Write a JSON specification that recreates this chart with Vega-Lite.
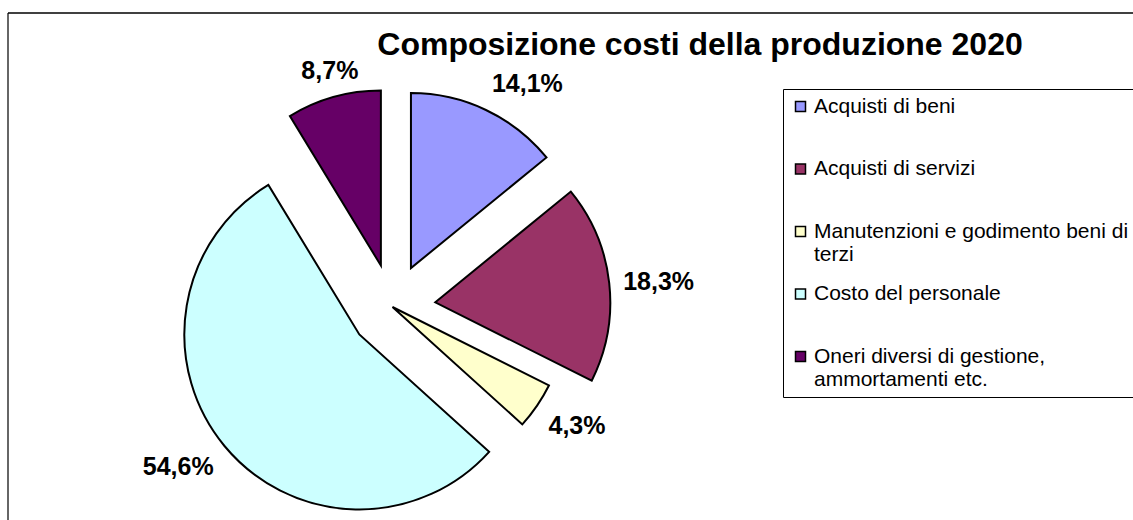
{
  "$schema": "https://vega.github.io/schema/vega-lite/v6.json",
  "width": 1125,
  "height": 507,
  "autosize": {"type": "none"},
  "padding": {"left": 8, "top": 13, "right": 0, "bottom": 0},
  "background": "white",
  "config": {"view": {"stroke": null}},
  "title": {
    "text": "Composizione costi della produzione 2020",
    "font": "Liberation Sans",
    "fontSize": 32,
    "fontWeight": "bold",
    "color": "black",
    "anchor": "middle",
    "frame": "group",
    "baseline": "alphabetic",
    "offset": -75,
    "dx": 129.5
  },
  "data": {
    "values": [
      {"voce": "Acquisti di beni", "quota": 14.1},
      {"voce": "Acquisti di servizi", "quota": 18.3},
      {"voce": "Manutenzioni e godimento beni di terzi", "quota": 4.3},
      {"voce": "Costo del personale", "quota": 54.6},
      {"voce": "Oneri diversi di gestione, ammortamenti etc.", "quota": 8.7}
    ]
  },
  "transform": [
    {"window": [{"op": "sum", "field": "quota", "as": "fine"}], "frame": [null, 0]},
    {"calculate": "datum.fine - datum.quota", "as": "inizio"},
    {"calculate": "(datum.inizio + datum.quota / 2) * 2 * PI / 100", "as": "mid"},
    {"calculate": "datum.voce == 'Manutenzioni e godimento beni di terzi' ? 0 : 0.246", "as": "esplodi"},
    {"calculate": "datum.esplodi * sin(datum.mid)", "as": "cx"},
    {"calculate": "datum.esplodi * cos(datum.mid)", "as": "cy"},
    {"calculate": "datum.cx + 1.08 * sin(datum.mid)", "as": "lx"},
    {"calculate": "datum.cy + 1.08 * cos(datum.mid)", "as": "ly"},
    {"calculate": "replace(format(datum.quota, '.1f'), '.', ',') + '%'", "as": "etichetta"}
  ],
  "layer": [
    {
      "mark": {"type": "arc", "outerRadius": 175, "stroke": "black", "strokeWidth": 2, "strokeJoin": "miter"},
      "encoding": {
        "x": {"field": "cx", "type": "quantitative", "scale": {"domain": [-2.1971, 4.2314], "nice": false, "zero": false}, "axis": null},
        "y": {"field": "cy", "type": "quantitative", "scale": {"domain": [-1.2171, 1.68], "nice": false, "zero": false}, "axis": null},
        "theta": {"field": "inizio", "type": "quantitative", "stack": null, "scale": {"domain": [0, 100], "range": [0, 6.283185307179586]}},
        "theta2": {"field": "fine"},
        "color": {
          "field": "voce",
          "type": "nominal",
          "sort": null,
          "scale": {
            "domain": ["Acquisti di beni", "Acquisti di servizi", "Manutenzioni e godimento beni di terzi", "Costo del personale", "Oneri diversi di gestione, ammortamenti etc."],
            "range": ["#9999FF", "#993366", "#FFFFCC", "#CCFFFF", "#660066"]
          },
          "legend": {
            "title": null,
            "orient": "none",
            "legendX": 775,
            "legendY": 76,
            "symbolType": "square",
            "symbolSize": 100,
            "symbolStrokeColor": "black",
            "symbolStrokeWidth": 1.5,
            "symbolOpacity": 1,
            "labelFont": "Liberation Sans",
            "labelFontSize": 21,
            "labelColor": "black",
            "labelLimit": 0,
            "labelOffset": 3,
            "labelBaseline": "middle",
            "labelExpr": "datum.label == 'Manutenzioni e godimento beni di terzi' ? ['Manutenzioni e godimento beni di', 'terzi'] : datum.label == 'Oneri diversi di gestione, ammortamenti etc.' ? ['Oneri diversi di gestione,', 'ammortamenti etc.'] : [datum.label, '']",
            "strokeColor": "black",
            "fillColor": "white",
            "padding": 7,
            "rowPadding": 17.5
          }
        }
      }
    },
    {
      "mark": {
        "type": "text",
        "font": "Liberation Sans",
        "fontSize": 25,
        "fontWeight": "bold",
        "color": "black",
        "align": {"expr": "sin(datum.mid) > 0.3 ? 'left' : sin(datum.mid) < -0.3 ? 'right' : 'center'"},
        "baseline": {"expr": "cos(datum.mid) > 0.3 ? 'bottom' : cos(datum.mid) < -0.3 ? 'top' : 'middle'"}
      },
      "encoding": {
        "x": {"field": "lx", "type": "quantitative"},
        "y": {"field": "ly", "type": "quantitative"},
        "text": {"field": "etichetta", "type": "nominal"}
      }
    },
    {
      "data": {"values": [{"bordo": -2.1971}]},
      "transform": [],
      "mark": {"type": "rule", "color": "#333", "strokeWidth": 1.5},
      "encoding": {"x": {"field": "bordo", "type": "quantitative"}}
    },
    {
      "data": {"values": [{"bordo": 1.68}]},
      "transform": [],
      "mark": {"type": "rule", "color": "#000", "strokeWidth": 1.5},
      "encoding": {"y": {"field": "bordo", "type": "quantitative"}}
    }
  ]
}
